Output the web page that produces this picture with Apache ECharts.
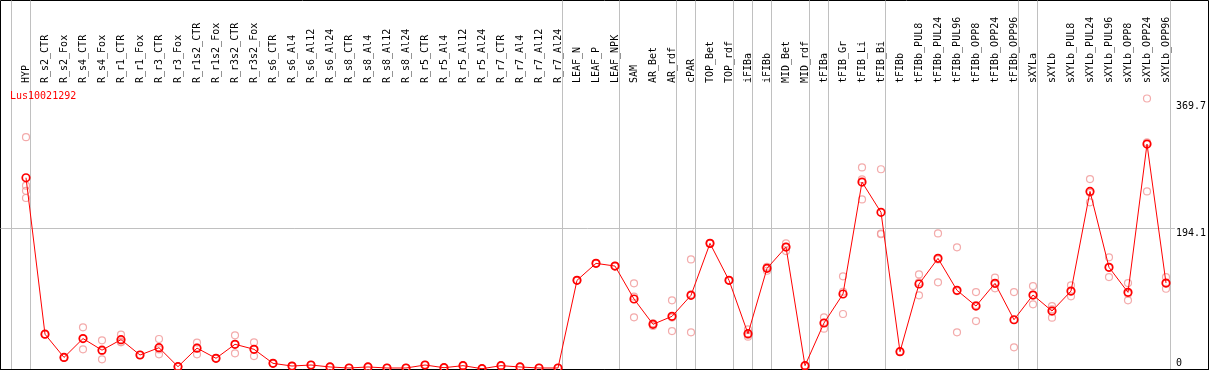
<!DOCTYPE html>
<html>
<head>
<meta charset="utf-8">
<script src="https://cdn.jsdelivr.net/npm/echarts@6/dist/echarts.min.js"></script>
<style>
  html, body { margin: 0; padding: 0; background: #fff; }
  #chart { width: 1209px; height: 370px; }
</style>
</head>
<body>
<div id="chart"></div>
<script>
// gene shown in the plot
const geneId = 'Lus10021292';

// sample names, in plot order
const categories = [
  'HYP', 'R_s2_CTR', 'R_s2_Fox', 'R_s4_CTR', 'R_s4_Fox', 'R_r1_CTR', 'R_r1_Fox',
  'R_r3_CTR', 'R_r3_Fox', 'R_r1s2_CTR', 'R_r1s2_Fox', 'R_r3s2_CTR', 'R_r3s2_Fox',
  'R_s6_CTR', 'R_s6_Al4', 'R_s6_Al12', 'R_s6_Al24', 'R_s8_CTR', 'R_s8_Al4', 'R_s8_Al12',
  'R_s8_Al24', 'R_r5_CTR', 'R_r5_Al4', 'R_r5_Al12', 'R_r5_Al24', 'R_r7_CTR', 'R_r7_Al4',
  'R_r7_Al12', 'R_r7_Al24', 'LEAF_N', 'LEAF_P', 'LEAF_NPK', 'SAM', 'AR_Bet', 'AR_rdf',
  'cPAR', 'TOP_Bet', 'TOP_rdf', 'iFIBa', 'iFIBb', 'MID_Bet', 'MID_rdf', 'tFIBa',
  'tFIB_Gr', 'tFIB_Li', 'tFIB_Bi', 'tFIBb', 'tFIBb_PUL8', 'tFIBb_PUL24', 'tFIBb_PUL96',
  'tFIBb_OPP8', 'tFIBb_OPP24', 'tFIBb_OPP96', 'sXYLa', 'sXYLb', 'sXYLb_PUL8',
  'sXYLb_PUL24', 'sXYLb_PUL96', 'sXYLb_OPP8', 'sXYLb_OPP24', 'sXYLb_OPP96'
];

// mean expression per sample
const means = [
  264, 48, 16, 42, 26, 40.5, 19.3, 29.4, 3.2, 28.8, 14.8, 34.1, 27.2,
  7.8, 4.1, 5.5, 2.8, 1.4, 2.8, 1.4, 1.4, 5.5, 1.8, 4.6, 0.4, 4.6, 2.8, 1.4, 1.4,
  122.4, 145.8, 142.1, 96.6, 61.7, 72.7, 101.7, 173.4, 122.4, 48.7, 138.9, 168.3, 4.6,
  63.5, 103.5, 258, 216.2, 23.9, 117.3, 152.7, 108.6, 86.9, 118.2, 68,
  102.1, 80, 107.6, 245.1, 140.3, 105.8, 310.4, 118.6
];

// replicates
const rep1 = [
  320, 48.3, 16.3, 57.5, 39.6, 47.4, 19.6, 41.4, 3.4, 36.5, 15.1, 46.5, 36.8,
  8.1, 4.4, 5.8, 3.1, 1.7, 3.1, 1.7, 1.7, 5.8, 2.1, 4.9, 0.7, 4.9, 3.1, 1.7, 1.7,
  122.8, 146.2, 142.5, 118.2, 59.5, 94.8, 151.3, 173.8, 122.8, 54.8, 141.1, 173.4, 4.9,
  71.3, 127.9, 278.2, 275.7, 24.2, 130.6, 187.2, 167.9, 106.2, 126, 106.2,
  114.5, 86.9, 115.5, 262.1, 154.1, 118.6, 373.4, 126.9
];
const rep2 = [
  253, 47.7, 15.7, 27.2, 13.4, 36.8, 19, 20.3, 3, 20.3, 14.5, 21.7, 17.9,
  7.5, 3.8, 5.2, 2.5, 1.1, 2.5, 1.1, 1.1, 5.2, 1.5, 4.3, 0.2, 4.3, 2.5, 1.1, 1.1,
  122, 145.4, 141.7, 71.3, 63, 52.4, 50.6, 173, 122, 44.6, 135.6, 162.8, 4.3,
  55.6, 106.6, 234.1, 187, 23.6, 101.7, 119.6, 50.6, 66.2, 111.3, 29.9,
  89.3, 70.8, 100.3, 230, 126.9, 94.8, 245.1, 110.8
];
const rep3 = [
  246, 48, 16, 42, 25, 37.5, 19.3, 27, 3.2, 29.5, 14.8, 34, 27,
  7.8, 4.1, 5.5, 2.8, 1.4, 2.8, 1.4, 1.4, 5.5, 1.8, 4.6, 0.4, 4.6, 2.8, 1.4, 1.4,
  122.4, 145.8, 142.1, 100, 62.5, 71, 103, 173.4, 122.4, 46.8, 140, 168.7, 4.6,
  63.6, 75.9, 261.7, 186, 23.9, 119.6, 151.3, 107.3, 88.3, 117.3, 67.9,
  102.5, 82.3, 107, 243.2, 139.9, 104, 312.7, 118.1
];
const rep4 = [236];

// a divider follows each of these sample indexes (-1 = left of the first one)
const groupEnds = [-1, 0, 28, 31, 34, 35, 37, 38, 39, 41, 42, 45, 52, 53, 60];

// value axis
const yTickLabels = [0, 194.1, 369.7];
const gridLines = [194.1];
const yMax = 392;

const W = 1209;
const X0 = 26;      // centre of the first sample, px
const STEP = 19;    // px per sample
const TOP = 85;
const FONT = "'DejaVu Sans Mono', monospace";

const chart = echarts.init(document.getElementById('chart'), null, { renderer: 'canvas' });

const repData = [];
[rep1, rep2, rep3, rep4].forEach(r => {
  r.forEach((v, i) => { if (v != null) repData.push([i, v]); });
});

const option = {
  animation: false,
  backgroundColor: '#fff',
  title: {
    text: geneId,
    left: 10,
    top: 91,
    padding: 0,
    textStyle: { color: '#ff0000', fontSize: 10, fontWeight: 'normal', fontFamily: FONT }
  },
  grid: [
    // outer frame, dividers run its full height
    { left: 0.5, right: 0.5, top: 0.5, bottom: 0.5, show: true, borderColor: '#000', borderWidth: 1, backgroundColor: 'transparent' },
    // line under the sample names
    { left: 0.5, right: 0.5, top: TOP, bottom: 1 },
    // samples
    { left: X0 - STEP / 2, width: STEP * categories.length, top: TOP, bottom: 1 },
    // value labels + grid line
    { left: 0.5, right: 31.5, top: TOP, bottom: 1 }
  ],
  xAxis: [
    {
      gridIndex: 0, type: 'value', show: false,
      min: (0.5 - X0) / STEP, max: (W - 0.5 - X0) / STEP
    },
    {
      gridIndex: 1, type: 'value', position: 'top', min: 0, max: 1,
      axisLine: { show: true, lineStyle: { color: '#000', width: 1 } },
      axisTick: { show: false }, axisLabel: { show: false }, splitLine: { show: false }
    },
    {
      gridIndex: 2, type: 'category', position: 'top', data: categories,
      boundaryGap: true,
      axisLine: { show: false }, axisTick: { show: false }, splitLine: { show: false },
      axisLabel: {
        interval: 0, rotate: 90, margin: 2,
        color: '#000', fontSize: 10, fontFamily: FONT
      }
    },
    { gridIndex: 3, type: 'value', show: false, min: 0, max: 1 }
  ],
  yAxis: [
    { gridIndex: 0, type: 'value', show: false, min: 0, max: 1 },
    { gridIndex: 1, type: 'value', show: false, min: 0, max: yMax },
    { gridIndex: 2, type: 'value', show: false, min: 0, max: yMax },
    {
      gridIndex: 3, type: 'value', position: 'right', min: 0, max: yMax,
      axisLine: { show: false },
      axisTick: { show: false, customValues: yTickLabels },
      splitLine: { show: false },
      axisLabel: {
        customValues: yTickLabels,
        margin: 1, align: 'left', verticalAlign: 'middle',
        color: '#000', fontSize: 10, fontFamily: FONT,
        formatter: v => (v === 0 ? '{b|' + v + '}' : '{t|' + v + '}'),
        rich: {
          t: { padding: [11, 0, 0, 0], fontSize: 10, fontFamily: FONT, color: '#000' },
          b: { padding: [0, 0, 11, 0], fontSize: 10, fontFamily: FONT, color: '#000' }
        }
      }
    }
  ],
  series: [
    {
      name: 'dividers', type: 'line', xAxisIndex: 0, yAxisIndex: 0, data: [],
      silent: true,
      markLine: {
        z: 0, silent: true, symbol: 'none', label: { show: false },
        lineStyle: { color: '#c0c0c0', width: 1, type: 'solid' },
        emphasis: { disabled: true },
        data: groupEnds.map(k => ({ xAxis: k + 4.5 / STEP }))
      }
    },
    {
      name: 'gridlines', type: 'line', xAxisIndex: 3, yAxisIndex: 3, data: [],
      silent: true,
      markLine: {
        z: 0, silent: true, symbol: 'none', label: { show: false },
        lineStyle: { color: '#c0c0c0', width: 1, type: 'solid' },
        emphasis: { disabled: true },
        data: gridLines.map(v => ({ yAxis: v }))
      }
    },
    {
      name: 'replicates', type: 'scatter', xAxisIndex: 2, yAxisIndex: 2,
      data: repData,
      symbol: 'circle', symbolSize: 7,
      itemStyle: { color: 'rgba(255,255,255,0)', borderColor: '#f09696', borderWidth: 1.2 },
      z: 2
    },
    {
      name: geneId, type: 'line', xAxisIndex: 2, yAxisIndex: 2,
      data: means,
      symbol: 'circle', symbolSize: 7.5, showAllSymbol: true,
      lineStyle: { color: '#ff0000', width: 1 },
      itemStyle: { color: 'rgba(255,255,255,0)', borderColor: '#ff0000', borderWidth: 1.7 },
      z: 3
    }
  ]
};

chart.setOption(option);
</script>
</body>
</html>
